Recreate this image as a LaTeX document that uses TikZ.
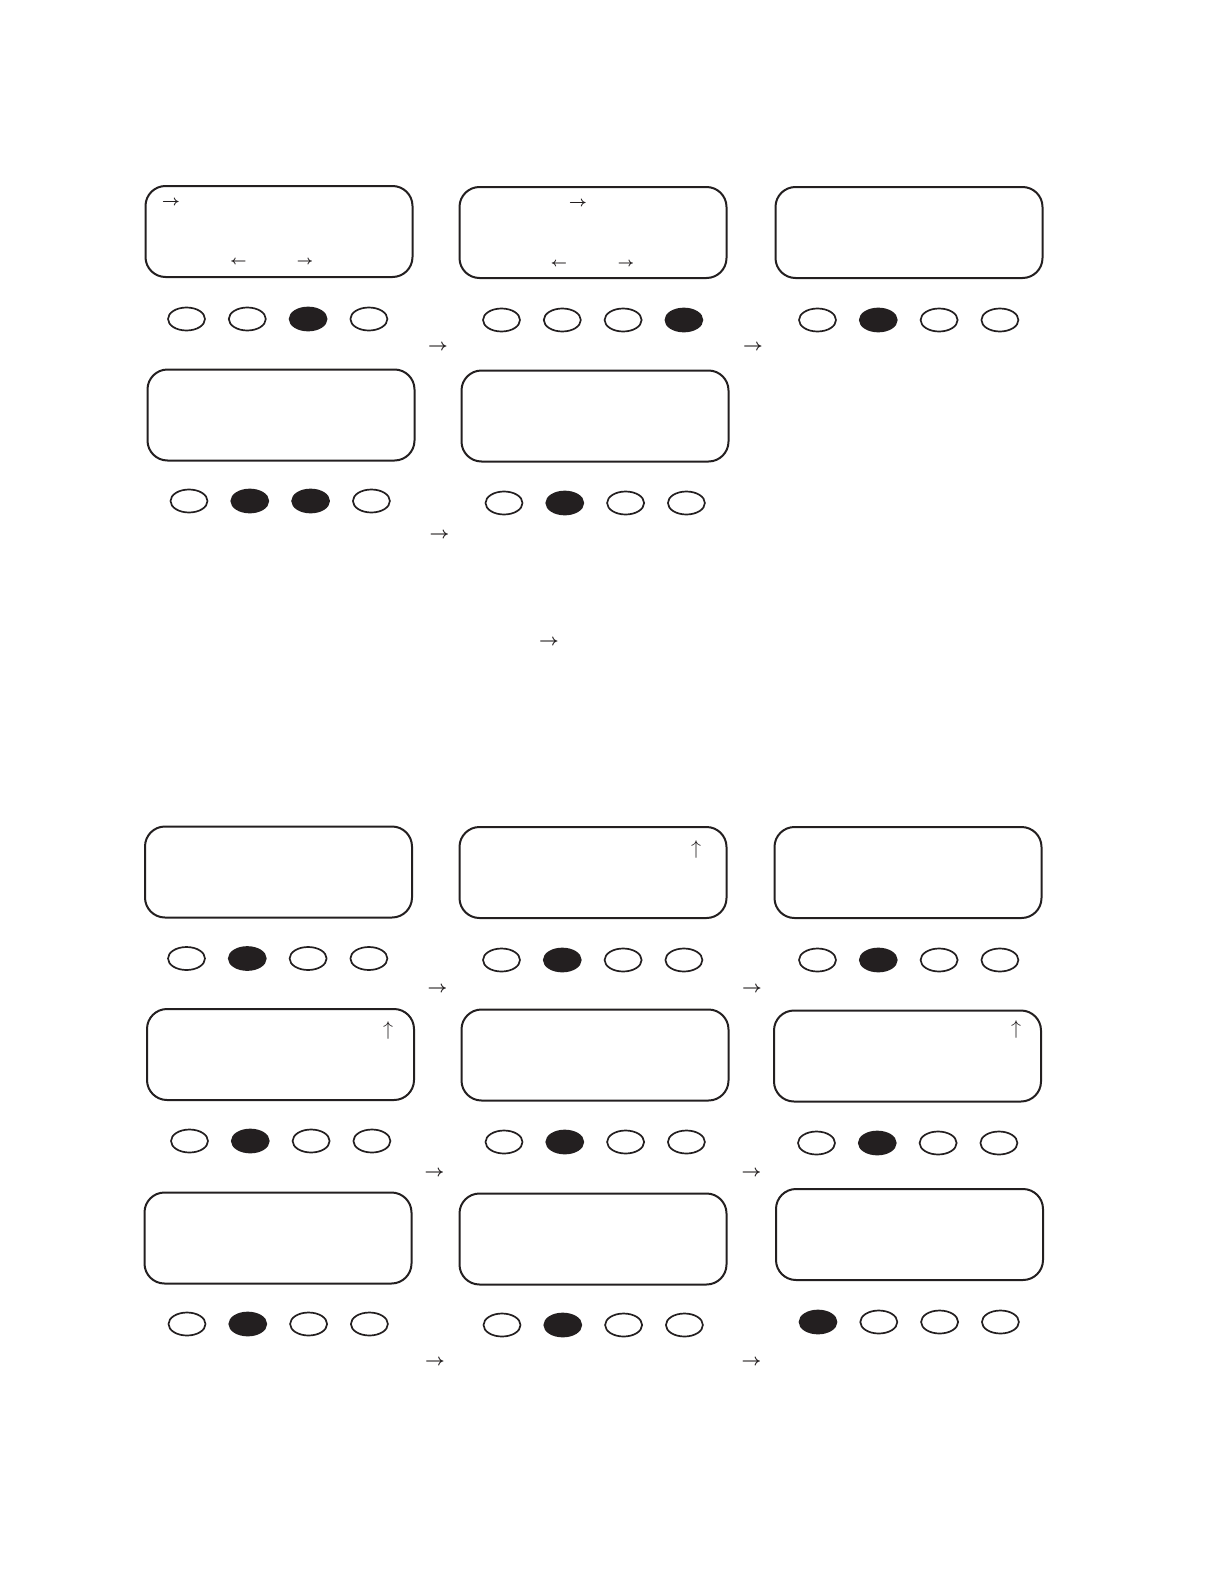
\documentclass[tikz,border=0pt]{standalone}
\usetikzlibrary{shapes.geometric}
\definecolor{ink}{RGB}{35,31,32}
\begin{document}
\begin{tikzpicture}[x=0.5pt,y=-0.5pt,
  screen/.style={draw=ink, line width=1pt, rounded corners=10pt, rectangle,
    minimum width=133.5pt, minimum height=45.5pt, inner sep=0pt},
  btnoff/.style={ellipse, draw=ink, line width=0.85pt, minimum width=18.5pt,
    minimum height=11.5pt, inner sep=0pt},
  btnon/.style={btnoff, fill=ink},
  arr/.style={inner sep=0pt, text=ink, font=\fontsize{8.5}{9}\selectfont\boldmath},
  arrup/.style={inner sep=0pt, text=ink, font=\fontsize{10}{11}\selectfont},
  arrs/.style={inner sep=0pt, text=ink, font=\fontsize{7}{8}\selectfont\boldmath},
  arrxs/.style={inner sep=0pt, text=ink, font=\fontsize{6}{7}\selectfont\boldmath}]
\useasboundingbox (0,0) rectangle (1224,1584);
% screens
\foreach \n/\x/\y in {P1/279/231.5, P2/593/232.5, P3/909/232.5,
  P4/281/415, P5/595/416,
  Q1/278.5/872, Q2/593/872.5, Q3/908/872.5,
  Q4/280.5/1054.5, Q5/595/1055, Q6/907.5/1056,
  Q7/278/1238, Q8/593/1239, Q9/909.5/1234.5}
  \node[screen] (\n) at (\x,\y) {};
% buttons
\foreach \n/\x/\y/\a/\b/\c/\d in {
  P1/186.5/319/btnoff/btnoff/btnon/btnoff,
  P2/501.5/320/btnoff/btnoff/btnoff/btnon,
  P3/817.5/320/btnoff/btnon/btnoff/btnoff,
  P4/189/501/btnoff/btnon/btnon/btnoff,
  P5/504/503/btnoff/btnon/btnoff/btnoff,
  Q1/186.5/958.5/btnoff/btnon/btnoff/btnoff,
  Q2/501.5/960/btnoff/btnon/btnoff/btnoff,
  Q3/817.5/960/btnoff/btnon/btnoff/btnoff,
  Q4/189.5/1141/btnoff/btnon/btnoff/btnoff,
  Q5/504/1142/btnoff/btnon/btnoff/btnoff,
  Q6/816.5/1143/btnoff/btnon/btnoff/btnoff,
  Q7/187/1324/btnoff/btnon/btnoff/btnoff,
  Q8/502/1325/btnoff/btnon/btnoff/btnoff,
  Q9/818/1322/btnon/btnoff/btnoff/btnoff}
{
  \node[\a] (\n b1) at (\x,\y) {};
  \node[\b] (\n b2) at ({\x+60.8},\y) {};
  \node[\c] (\n b3) at ({\x+121.6},\y) {};
  \node[\d] (\n b4) at ({\x+182.4},\y) {};
}
% arrows inside screens
\node[arrs] (P1t) at (171,203) {$\rightarrow$};
\node[arrxs] (P1l) at (238.5,262) {$\leftarrow$};
\node[arrxs] (P1r) at (305,262) {$\rightarrow$};
\node[arrs] (P2t) at (578,204) {$\rightarrow$};
\node[arrxs] (P2l) at (559,264) {$\leftarrow$};
\node[arrxs] (P2r) at (626,264) {$\rightarrow$};
\node[arrup] (Q2u) at (696,849.5) {$\uparrow$};
\node[arrup] (Q4u) at (388,1030.5) {$\uparrow$};
\node[arrup] (Q6u) at (1016,1029.5) {$\uparrow$};
% arrows between panels
\foreach \n/\x/\y in {a1/438/347, a2/753/347, a3/439.5/535, a4/549/642,
  a5/437.5/989, a6/752/989, a7/434.5/1173, a8/751.5/1173,
  a9/435/1362, a10/751.5/1362}
  \node[arr] (\n) at (\x,\y) {$\rightarrow$};
\end{tikzpicture}
\end{document}
